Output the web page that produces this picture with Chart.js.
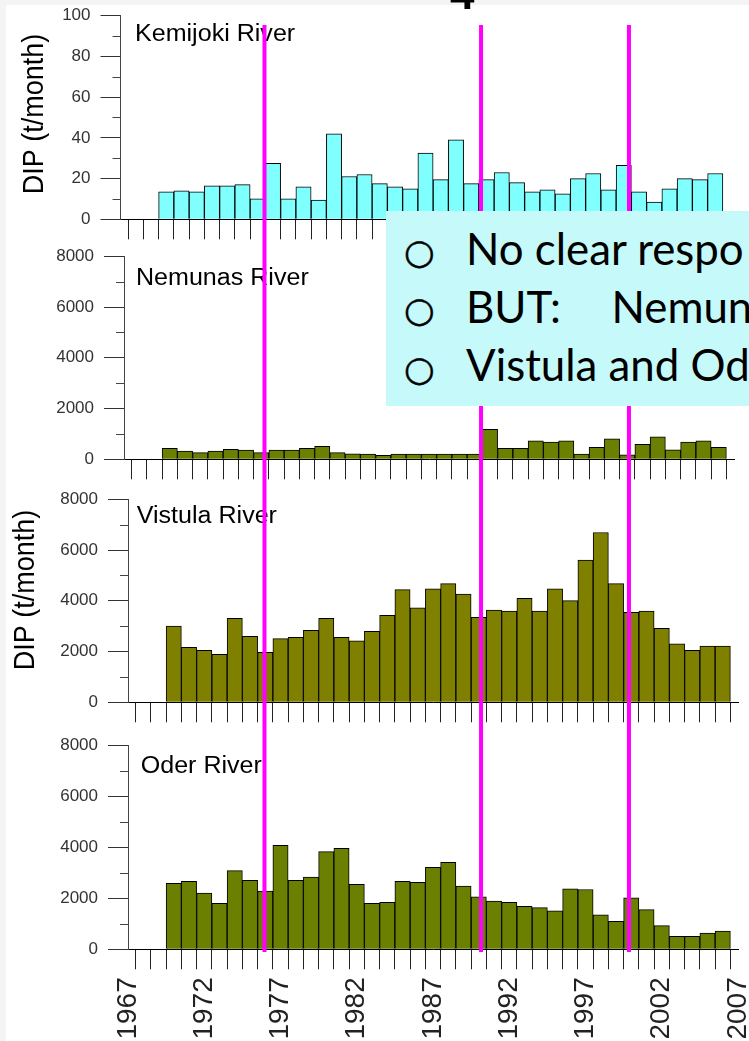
<!DOCTYPE html>
<html>
<head>
<meta charset="utf-8">
<title>DIP loads of Baltic rivers</title>
<script src="https://cdn.jsdelivr.net/npm/chart.js@4.4.1/dist/chart.umd.min.js"></script>
<style>
  html, body { margin: 0; padding: 0; background: #fff; }
  #stage { position: relative; width: 749px; height: 1041px; overflow: hidden; background: #fff; }
  #stage canvas { position: absolute; left: 0; top: 0; }
  .edge-top { position: absolute; left: 0; top: 0; width: 749px; height: 5px; background: #f4f4f4; }
  .edge-left { position: absolute; left: 0; top: 0; width: 6px; height: 1041px; background: #f4f4f4; }
  .slide-no { position: absolute; left: 450px; top: -28.5px; font: bold 44px "Liberation Sans", Arial, sans-serif; line-height: 44px; color: #000; z-index: 5; }
  .note { position: absolute; left: 386px; top: 211px; width: 420px; height: 195px; background: #c6f9fa; z-index: 10; overflow: hidden; }
  .note span { position: absolute; white-space: pre; color: #000; line-height: 1; }
  .note .bul { font-family: "DejaVu Sans", sans-serif; font-size: 35px; -webkit-text-stroke: 0.5px #000; }
  .note .txt { font-family: Lato, "Open Sans", sans-serif; font-size: 43.8px; }
</style>
</head>
<body>
<div id="stage">
  <div class="edge-top"></div>
  <div class="edge-left"></div>
  <div class="slide-no">4</div>
  <div class="note">
    <span class="bul" style="left:18px; top:24px;">○</span>
    <span class="txt" style="left:80px; top:15.5px;">No clear respo</span>
    <span class="bul" style="left:18px; top:82px;">○</span>
    <span class="txt" style="left:80px; top:73.5px;">BUT:</span>
    <span class="txt" style="left:225.5px; top:73.5px;">Nemun</span>
    <span class="bul" style="left:18px; top:140.5px;">○</span>
    <span class="txt" style="left:80px; top:131.5px;">Vistula and Od</span>
  </div>
</div>
<script>
// Annual DIP loads (t/month), one bar per year
const years = [1970, 1971, 1972, 1973, 1974, 1975, 1976, 1977, 1978, 1979,
               1980, 1981, 1982, 1983, 1984, 1985, 1986, 1987, 1988, 1989,
               1990, 1991, 1992, 1993, 1994, 1995, 1996, 1997, 1998, 1999,
               2000, 2001, 2002, 2003, 2004, 2005, 2006];

const kemijoki = [13.5, 14, 13.5, 16.5, 16.5, 17, 10, 27.5, 10, 16,
                  9.5, 42, 21, 22, 17.5, 16, 15, 32.5, 19.5, 39,
                  17.5, 19.5, 23, 18, 13.5, 14.5, 12.5, 20, 22.5, 14.5,
                  26.5, 13.5, 8.5, 15, 20, 19.5, 22.5];

const nemunas = [430, 320, 260, 320, 390, 360, 260, 360, 360, 430,
                 510, 260, 220, 210, 160, 210, 210, 210, 210, 210,
                 210, 1180, 430, 430, 730, 680, 730, 210, 470, 810,
                 180, 590, 890, 370, 680, 730, 470];

const vistula = [3000, 2170, 2050, 1890, 3310, 2600, 1970, 2510, 2560, 2840,
                 3310, 2560, 2420, 2800, 3430, 4440, 3720, 4470, 4680, 4260,
                 3350, 3630, 3590, 4100, 3590, 4470, 4010, 5600, 6690, 4680,
                 3550, 3590, 2920, 2300, 2050, 2220, 2220];

const oder = [2590, 2670, 2210, 1810, 3090, 2710, 2290, 4090, 2710, 2840,
              3840, 3970, 2550, 1810, 1850, 2670, 2630, 3220, 3420, 2480,
              2060, 1890, 1850, 1690, 1640, 1510, 2380, 2350, 1350, 1100,
              2020, 1560, 930, 510, 510, 640, 720];

// Axis settings
const yearMin = 1967;
const yearMax = 2007;
const yearLabelEvery = 5;
const riverNames = ['Kemijoki River', 'Nemunas River', 'Vistula River', 'Oder River'];
const yMaxima = [100, 8000, 8000, 8000];
const yMinorSteps = [10, 1000, 1000, 1000];
const yAxisTitle = 'DIP (t/month)';

// Years marked by the vertical reference lines
const breakYears = [1975.95, 1990.15, 1999.85];

// ---- layout & styling ----
const W = 749, H = 1041;
const FONT = '"Liberation Sans", Arial, Helvetica, sans-serif';
const Y_AXIS_W = 118;
const BREAK_SPAN = [25, 952];

const panels = [
  { values: kemijoki, fill: '#80ffff', area: { left: 120.5, right: 730.5, top: 15.7, bottom: 219.3 },
    nameAt: [14.5, 25], title: { x: 35, y: 114 }, xLabels: false },
  { values: nemunas, fill: '#6b7f00', area: { left: 124, right: 734, top: 256.3, bottom: 459.3 },
    nameAt: [12, 28.7], title: null, xLabels: false },
  { values: vistula, fill: '#808000', area: { left: 128, right: 738, top: 499.3, bottom: 702.3 },
    nameAt: [8.7, 23.4], title: { x: 25.5, y: 590 }, xLabels: false },
  { values: oder, fill: '#6b7f00', area: { left: 128, right: 738, top: 745.7, bottom: 949.3 },
    nameAt: [12.7, 27], title: null, xLabels: true }
];

function decorPlugin(p, idx, drawBreaks) {
  return {
    id: 'panelDecor' + idx,
    afterDraw(chart) {
      const { ctx, chartArea: a, scales } = chart;
      const ys = scales.y, xs = scales.x;
      const step = yMinorSteps[idx], yMax = yMaxima[idx];
      ctx.save();
      // short (unlabelled) y ticks
      ctx.strokeStyle = '#444';
      ctx.lineWidth = 1;
      for (let v = step; v < yMax; v += 2 * step) {
        const py = Math.round(ys.getPixelForValue(v)) + 0.5;
        ctx.beginPath();
        ctx.moveTo(a.left - 8, py);
        ctx.lineTo(a.left, py);
        ctx.stroke();
      }
      // river name inside the plot
      ctx.fillStyle = '#000';
      ctx.font = '23px ' + FONT;
      ctx.textAlign = 'left';
      ctx.textBaseline = 'alphabetic';
      ctx.save();
      ctx.translate(a.left + p.nameAt[0], a.top + p.nameAt[1]);
      ctx.scale(1.09, 1);
      ctx.fillText(riverNames[idx], 0, 0);
      ctx.restore();
      // y-axis title
      if (p.title) {
        ctx.save();
        ctx.translate(p.title.x, p.title.y);
        ctx.rotate(-Math.PI / 2);
        ctx.scale(1, 1.1);
        ctx.font = '27px ' + FONT;
        ctx.textAlign = 'center';
        ctx.textBaseline = 'middle';
        ctx.fillText(yAxisTitle, 0, 0);
        ctx.restore();
      }
      // vertical reference lines across all panels
      if (drawBreaks) {
        ctx.strokeStyle = '#ff00ff';
        ctx.lineWidth = 4;
        ctx.lineCap = 'butt';
        breakYears.forEach(yr => {
          const px = xs.getPixelForValue(yr);
          ctx.beginPath();
          ctx.moveTo(px, BREAK_SPAN[0]);
          ctx.lineTo(px, BREAK_SPAN[1]);
          ctx.stroke();
        });
      }
      ctx.restore();
    }
  };
}

function makeConfig(p, idx, isLast) {
  const xAxisH = p.xLabels ? H - p.area.bottom : 24;
  const step = yMinorSteps[idx];
  return {
    type: 'bar',
    data: {
      datasets: [{
        data: years.map((yr, k) => ({ x: yr, y: p.values[k] })),
        backgroundColor: p.fill,
        borderColor: '#000',
        borderWidth: 1,
        barPercentage: 1,
        categoryPercentage: 1
      }]
    },
    options: {
      responsive: false,
      animation: false,
      devicePixelRatio: 1,
      layout: {
        padding: {
          left: p.area.left - Y_AXIS_W,
          right: W - p.area.right,
          top: p.area.top,
          bottom: H - p.area.bottom - xAxisH
        }
      },
      plugins: { legend: { display: false }, tooltip: { enabled: false }, title: { display: false } },
      scales: {
        x: {
          type: 'linear',
          min: yearMin,
          max: yearMax,
          offset: false,
          grid: { drawOnChartArea: false, drawTicks: true, tickLength: 20, tickColor: '#222', tickWidth: 1 },
          border: { display: true, color: '#000', width: 1 },
          ticks: {
            display: p.xLabels,
            stepSize: 1,
            autoSkip: false,
            minRotation: 90,
            maxRotation: 90,
            padding: 8,
            color: '#222',
            font: { family: FONT, size: 28 },
            callback: (v) => ((v - yearMin) % yearLabelEvery === 0 ? String(v) : '')
          },
          afterFit: (s) => { s.height = xAxisH; s.paddingLeft = 0; s.paddingRight = 0; }
        },
        y: {
          min: 0,
          max: yMaxima[idx],
          grid: {
            drawOnChartArea: false,
            drawTicks: true,
            tickLength: 20,
            tickColor: (c) => (c.tick && Math.round(c.tick.value / step) % 2 === 0 ? '#333' : 'rgba(0,0,0,0)')
          },
          border: { display: true, color: '#444', width: 1 },
          ticks: {
            stepSize: step,
            autoSkip: false,
            padding: 10,
            color: '#333',
            font: { family: FONT, size: 17 },
            callback: (v) => (Math.round(v / step) % 2 === 0 ? String(v) : '')
          },
          afterFit: (s) => { s.width = Y_AXIS_W; s.paddingTop = 0; s.paddingBottom = 0; }
        }
      }
    },
    plugins: [decorPlugin(p, idx, isLast)]
  };
}

const stage = document.getElementById('stage');
const note = stage.querySelector('.note');
panels.forEach((p, idx) => {
  const cv = document.createElement('canvas');
  cv.width = W;
  cv.height = H;
  stage.insertBefore(cv, note);
  new Chart(cv, makeConfig(p, idx, idx === panels.length - 1));
});
</script>
</body>
</html>
